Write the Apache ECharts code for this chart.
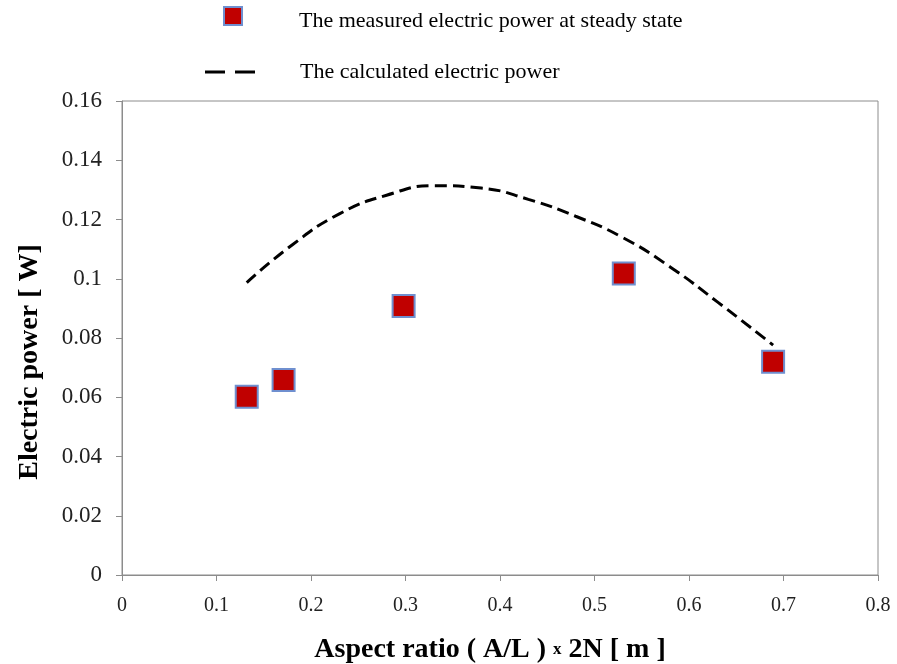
<!DOCTYPE html>
<html>
<head>
<meta charset="utf-8">
<script src="https://cdn.jsdelivr.net/npm/echarts@6/dist/echarts.min.js"></script>
<style>
  html, body { margin: 0; padding: 0; background: #fff; }
  #chart { width: 897px; height: 664px; }
</style>
</head>
<body>
<div id="chart"></div>
<script>
  // measured points (aspect ratio, power)
  var measuredX = [0.132, 0.171, 0.298, 0.531, 0.689]
  var measuredY = [0.0602, 0.0658, 0.0908, 0.1018, 0.0720]
  // calculated curve
  var calcX = [0.132, 0.18, 0.23, 0.28, 0.33, 0.38, 0.43, 0.48, 0.53, 0.58, 0.63, 0.689]
  var calcY = [0.0987, 0.1114, 0.1219, 0.1282, 0.1314, 0.1306, 0.1268, 0.1211, 0.1139, 0.1040, 0.0922, 0.0776]
  var xTicks = [0, 0.1, 0.2, 0.3, 0.4, 0.5, 0.6, 0.7, 0.8]
  var yTicks = [0, 0.02, 0.04, 0.06, 0.08, 0.1, 0.12, 0.14, 0.16]

  var measuredName = 'The measured electric power at steady state'
  var calcName = 'The calculated electric power'

  var chart = echarts.init(document.getElementById('chart'))
  var serif = '"Liberation Serif", "DejaVu Serif", serif'

  var option = {
    backgroundColor: '#fff',
    animation: false,
    textStyle: { fontFamily: serif },
    legend: [
      {
        data: [measuredName],
        left: 218, top: 1,
        // square sits in the top part of the icon box, so the text lies a bit lower
        icon: 'path://M0,0 H18 V18 H0 Z M0,28 L0,28 Z',
        itemWidth: 18, itemHeight: 28,
        textStyle: { fontSize: 22, color: '#000', fontFamily: serif, padding: [0, 0, 0, 52] }
      },
      {
        data: [calcName],
        left: 200, top: 56,
        // two dashes, like the reference key
        icon: 'path://M0,0 H20 V3 H0 Z M30,0 H50 V3 H30 Z',
        itemWidth: 50, itemHeight: 3,
        itemStyle: { color: '#000' },
        textStyle: { fontSize: 22, color: '#000', fontFamily: serif, padding: [0, 0, 0, 40] }
      }
    ],
    grid: {
      left: 122, right: 19, top: 101, bottom: 89,
      outerBoundsMode: 'none',
      show: true, borderColor: '#8c8c8c', borderWidth: 1, backgroundColor: '#fff'
    },
    xAxis: {
      type: 'value',
      min: xTicks[0], max: xTicks[xTicks.length - 1], interval: 0.1,
      name: 'Aspect ratio ( A/L ) {s|x} 2N [ m ]',
      nameLocation: 'middle', nameGap: 61,
      nameTextStyle: {
        fontSize: 28, fontWeight: 'bold', color: '#000', fontFamily: serif,
        padding: [0, 20, 0, 0],
        rich: { s: { fontSize: 17, fontWeight: 'bold', color: '#000', fontFamily: serif } }
      },
      axisLine: { lineStyle: { color: '#8c8c8c' } },
      axisTick: { show: true, inside: false, length: 6, lineStyle: { color: '#8c8c8c' } },
      axisLabel: { fontSize: 20, color: '#222', margin: 21, fontFamily: serif },
      splitLine: { show: false }
    },
    yAxis: {
      type: 'value',
      min: yTicks[0], max: yTicks[yTicks.length - 1], interval: 0.02,
      name: 'Electric power [ W]',
      nameLocation: 'middle', nameGap: 78,
      nameTextStyle: { fontSize: 28, fontWeight: 'bold', color: '#000', fontFamily: serif, padding: [0, 48, 0, 0] },
      axisLine: { show: true, lineStyle: { color: '#8c8c8c' } },
      axisTick: { show: true, inside: false, length: 6, lineStyle: { color: '#8c8c8c' } },
      axisLabel: { fontSize: 23, color: '#222', margin: 20, fontFamily: serif },
      splitLine: { show: false }
    },
    series: [
      {
        name: calcName,
        type: 'line',
        smooth: true,
        symbol: 'none',
        data: calcX.map(function (x, i) { return [x, calcY[i]] }),
        lineStyle: { color: '#000', width: 3, type: [12, 6] },
        itemStyle: { color: '#000' },
        z: 2
      },
      {
        name: measuredName,
        type: 'scatter',
        symbol: 'rect',
        symbolSize: 22,
        data: measuredX.map(function (x, i) { return [x, measuredY[i]] }),
        itemStyle: { color: '#c00000', borderColor: '#6f8fcf', borderWidth: 2, opacity: 1 },
        z: 3
      }
    ]
  }
  chart.setOption(option)
</script>
</body>
</html>
